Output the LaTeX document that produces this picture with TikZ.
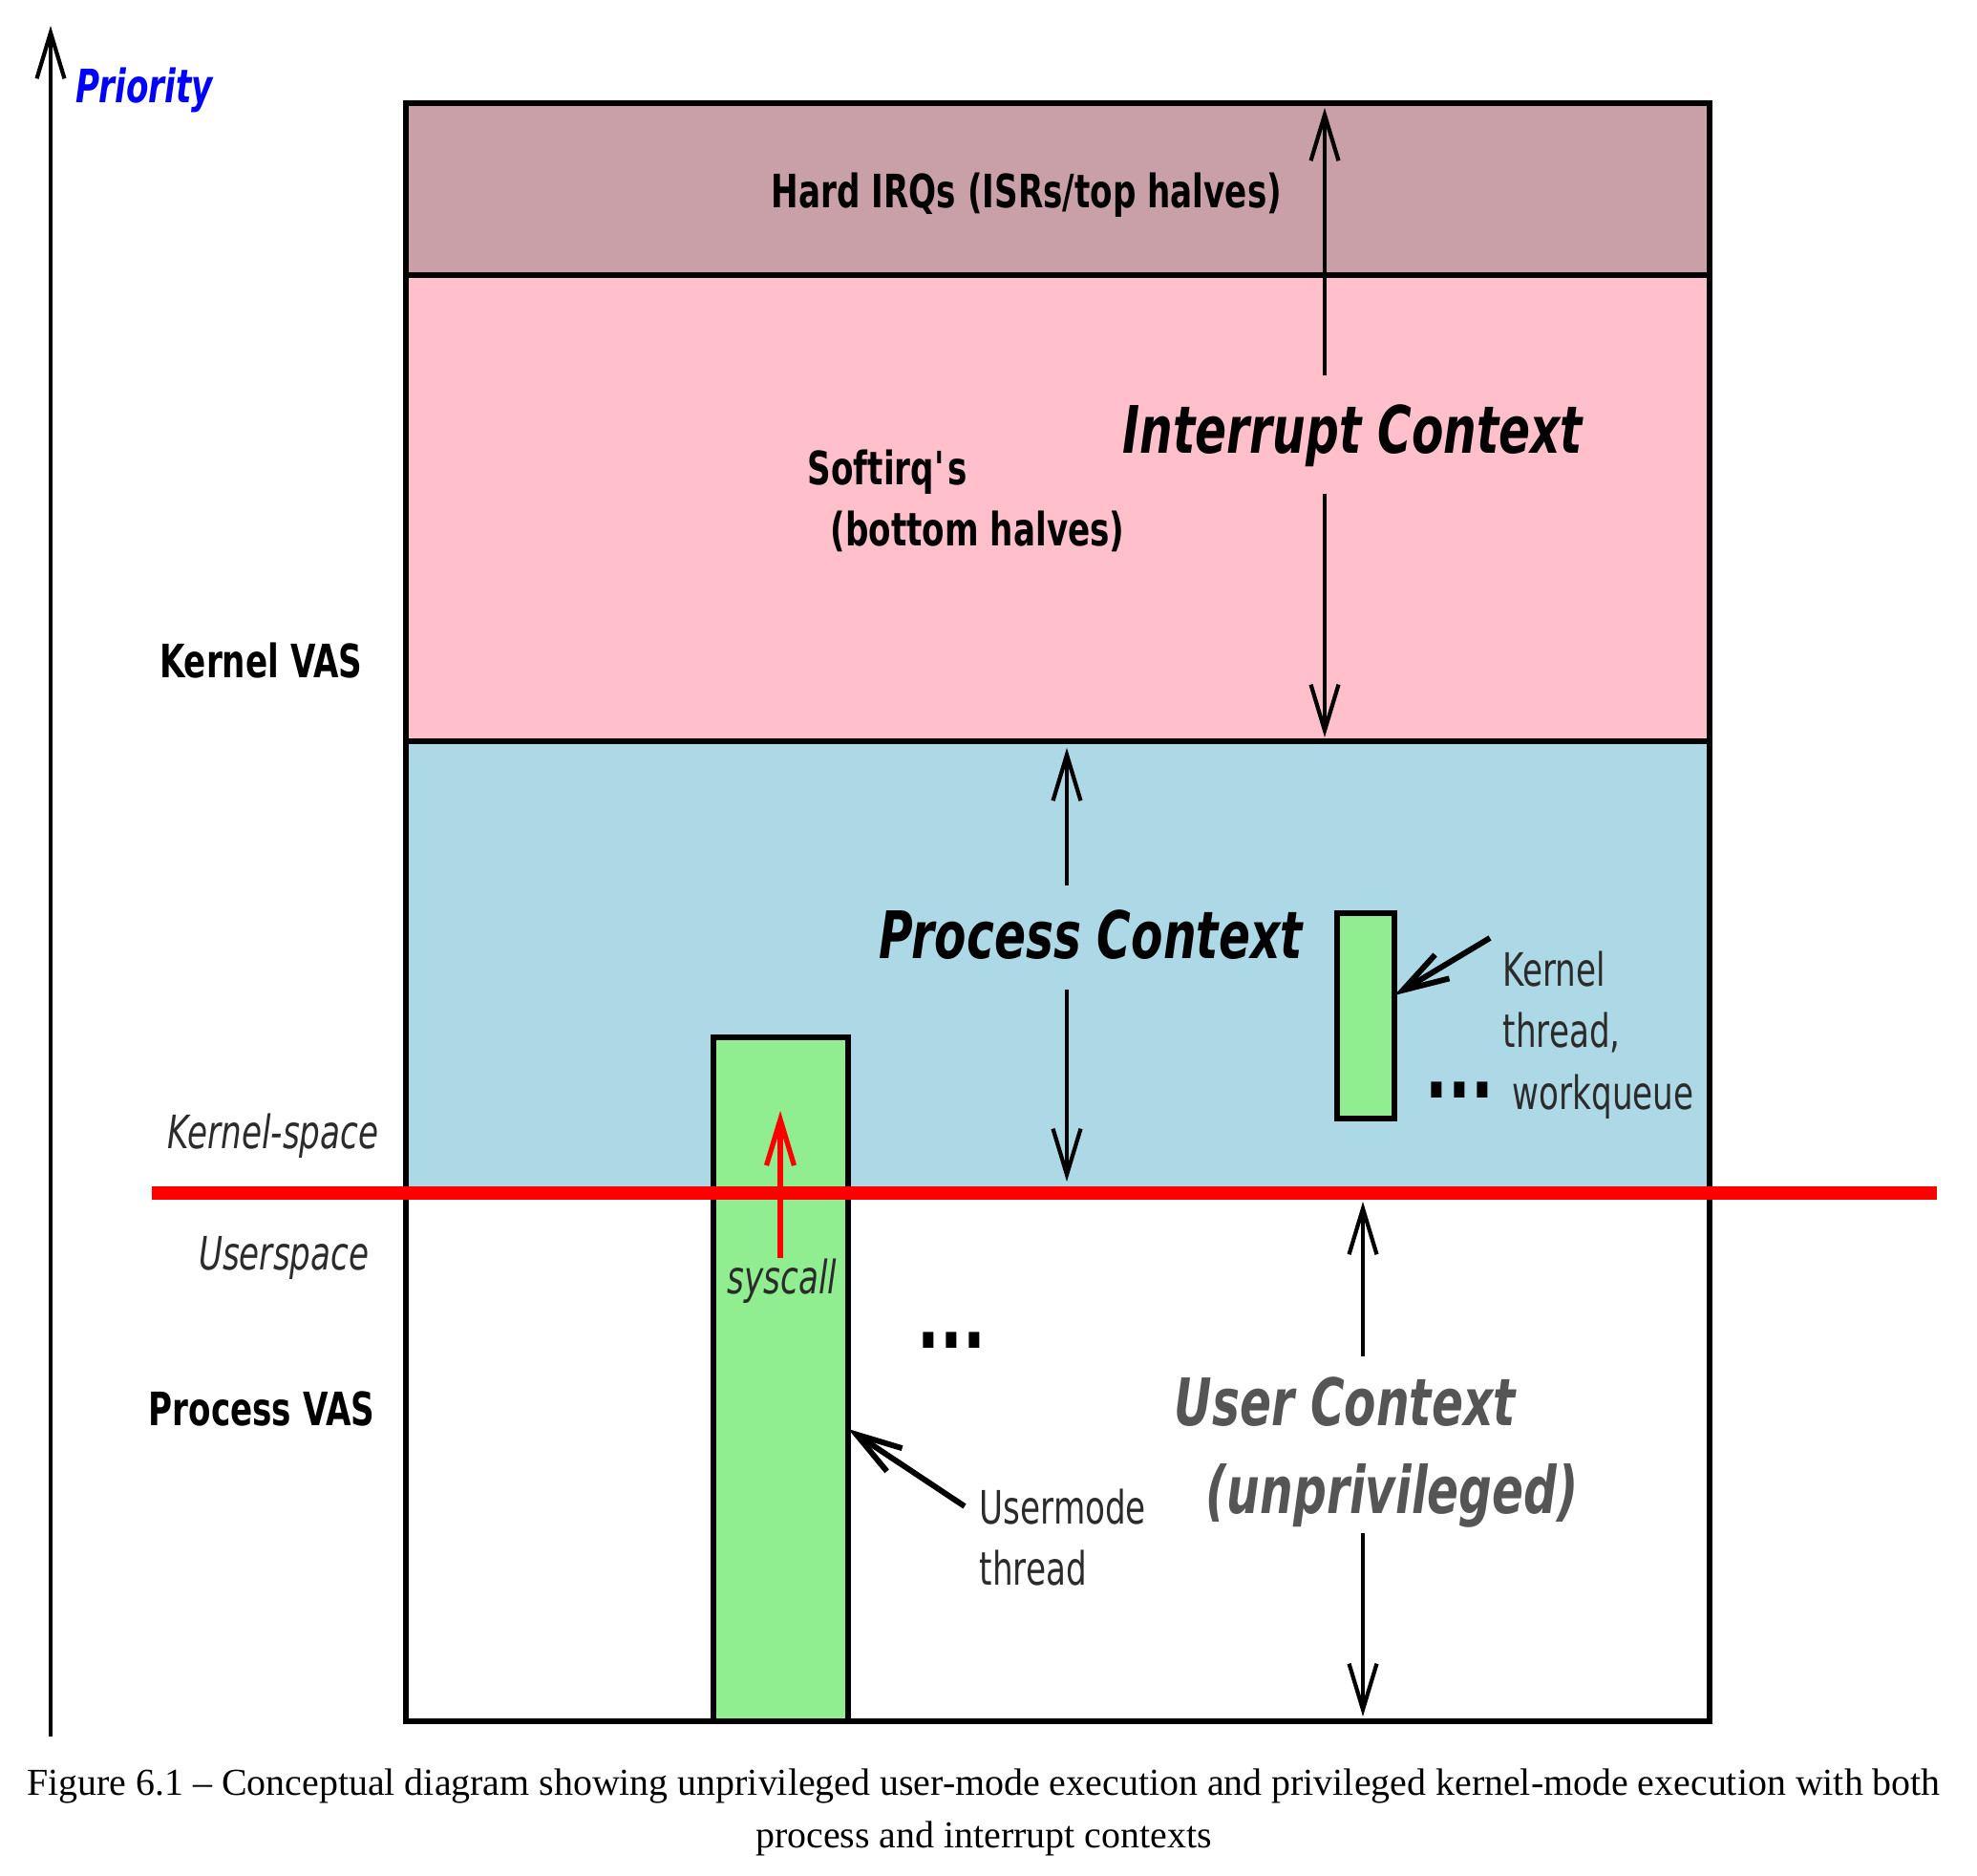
\documentclass[tikz,border=0pt]{standalone}
\usepackage{fontspec}
\setmainfont{Liberation Serif}
\newfontfamily\dvsans[FakeStretch=0.71]{DejaVu Sans}
\usepackage{xcolor}
\definecolor{kvasRose}{HTML}{C9A0A8}
\definecolor{kvasPink}{HTML}{FFC0CB}
\definecolor{kvasBlue}{HTML}{ADD8E6}
\definecolor{kvasGreen}{HTML}{90EE90}
\definecolor{kvasGray}{HTML}{555555}
\definecolor{kvasInk}{HTML}{2B2B2B}
\usepackage{tikz}
\usetikzlibrary{arrows.meta,calc,positioning}

\begin{document}
\begin{tikzpicture}[>={Straight Barb[length=4.8mm,width=2.9mm]},font=\dvsans\fontsize{13.7}{18.2}\selectfont]
  \tikzset{
    band/.style={
      draw=black,
      line width=1.85pt,
      outer sep=0pt,
      inner sep=0pt,
      minimum width=13.65cm
    },
    thread/.style={draw=black, fill=kvasGreen, line width=1.85pt, outer sep=0pt, inner sep=0pt},
    vaslabel/.style={font=\dvsans\bfseries\fontsize{13.7}{18.2}\selectfont, text=black, inner sep=0pt},
    spacelabel/.style={font=\dvsans\itshape\fontsize{13.7}{18.2}\selectfont, text=kvasInk, inner sep=0pt},
    notelabel/.style={font=\dvsans\fontsize{13.7}{18.2}\selectfont, text=kvasInk, inner sep=0pt, anchor=base west},
    ctxlabel/.style={font=\dvsans\bfseries\itshape\fontsize{19.5}{26}\selectfont, inner sep=0pt, anchor=base west},
    dotslabel/.style={font=\dvsans\bfseries\fontsize{25}{30}\selectfont, inner sep=0pt, anchor=base west},
    caplabel/.style={font=\fontsize{11.35}{14}\selectfont, inner sep=0pt, anchor=base},
    ctxarrow/.style={->, line width=1.2pt},
    ptrarrow/.style={->, line width=1.7pt}
  }
  \path[use as bounding box] (0,0) rectangle (20.70,19.64);

  \node[band,fill=kvasRose,minimum height=1.80cm,anchor=north west] (hardirq) at (4.25,18.56) {};
  \node[band,fill=kvasPink,minimum height=4.88cm,below=0pt of hardirq] (softirq) {};
  \node[band,fill=kvasBlue,minimum height=4.73cm,below=0pt of softirq] (proc) {};
  \node[band,fill=white,minimum height=5.53cm,below=0pt of proc] (user) {};

  \node[thread,minimum width=1.41cm,minimum height=7.16cm,anchor=south west] (uthread) at (7.47,1.62) {};
  \node[thread,minimum width=0.60cm,minimum height=2.15cm,anchor=south west] (kthread) at (14.00,7.93) {};

  \coordinate (splitL) at (1.59,7.15);
  \coordinate (splitR) at (20.28,7.15);
  \draw[red,line width=4.25pt] (splitL) -- (splitR);

  \coordinate (prioBase) at (0.53,1.46);
  \coordinate (prioTop) at (0.53,19.37);
  \draw[ctxarrow] (prioBase) -- (prioTop);
  \node[font=\dvsans\bfseries\itshape\fontsize{13.7}{18.2}\selectfont,text=blue,inner sep=0pt,anchor=base west] (prio) at (0.79,18.56) {Priority};

  \node[vaslabel,anchor=base] (hardlbl) at (10.75,17.46) {Hard IRQs (ISRs/top halves)};
  \node[vaslabel,anchor=base west] (softlbl) at (8.45,14.56) {Softirq\textquotesingle s};
  \node[vaslabel,anchor=base west] (bhlbl) at (8.69,13.92) {(bottom halves)};
  \node[vaslabel,anchor=base east] (kvas) at (3.80,12.54) {Kernel VAS};
  \node[vaslabel,anchor=base east] (pvas) at (3.93,4.71) {Process VAS};
  \node[spacelabel,anchor=base east] (kspace) at (3.97,7.61) {Kernel-space};
  \node[spacelabel,anchor=base east] (uspace) at (3.87,6.34) {Userspace};

  \node[ctxlabel] (irqctx) at (11.75,14.89) {Interrupt Context};
  \node[ctxlabel] (procctx) at (9.20,9.60) {Process Context};
  \node[ctxlabel,text=kvasGray] (userctx) at (12.29,4.71) {User Context};
  \node[ctxlabel,text=kvasGray] (unpriv) at (12.62,3.79) {(unprivileged)};

  \coordinate (irqUp) at (13.87,15.71);
  \coordinate (irqTip) at (13.87,18.51);
  \coordinate (irqDown) at (13.87,14.47);
  \coordinate (softTip) at (13.87,11.92);
  \draw[ctxarrow] (irqUp) -- (irqTip);
  \draw[ctxarrow] (irqDown) -- (softTip);

  \coordinate (procUp) at (11.17,10.37);
  \coordinate (procTip) at (11.17,11.81);
  \coordinate (procDown) at (11.17,9.28);
  \coordinate (kernTip) at (11.17,7.27);
  \draw[ctxarrow] (procUp) -- (procTip);
  \draw[ctxarrow] (procDown) -- (kernTip);

  \coordinate (userUp) at (14.27,5.44);
  \coordinate (splitTip) at (14.27,7.06);
  \coordinate (userDown) at (14.27,3.59);
  \coordinate (floorTip) at (14.27,1.67);
  \draw[ctxarrow] (userUp) -- (splitTip);
  \draw[ctxarrow] (userDown) -- (floorTip);

  \coordinate (sysTail) at (8.17,6.47);
  \coordinate (sysTip) at (8.17,8.01);
  \draw[->,red,line width=1.5pt] (sysTail) -- (sysTip);
  \node[spacelabel,anchor=base] (sys) at (8.19,6.09) {syscall};

  \node[dotslabel] (udots) at (9.60,5.52) {...};
  \node[dotslabel] (kdots) at (14.92,8.14) {...};

  \node[notelabel] (kthA) at (15.73,9.31) {Kernel};
  \node[notelabel] (kthB) at (15.73,8.67) {thread,};
  \node[notelabel] (kthC) at (15.83,8.02) {workqueue};
  \coordinate (kthTail) at (15.60,9.82);
  \draw[ptrarrow] (kthTail) -- ([yshift=0.215cm]kthread.east);

  \node[notelabel] (umA) at (10.25,3.68) {Usermode};
  \node[notelabel] (umB) at (10.25,3.04) {thread};
  \coordinate (umTail) at (10.10,3.87);
  \draw[ptrarrow] (umTail) -- ([yshift=-0.52cm]uthread.east);

  \node[caplabel] (capA) at (10.30,0.84) {Figure 6.1 -- Conceptual diagram showing unprivileged user-mode execution and privileged kernel-mode execution with both};
  \node[caplabel] (capB) at (10.30,0.29) {process and interrupt contexts};
\end{tikzpicture}
\end{document}
